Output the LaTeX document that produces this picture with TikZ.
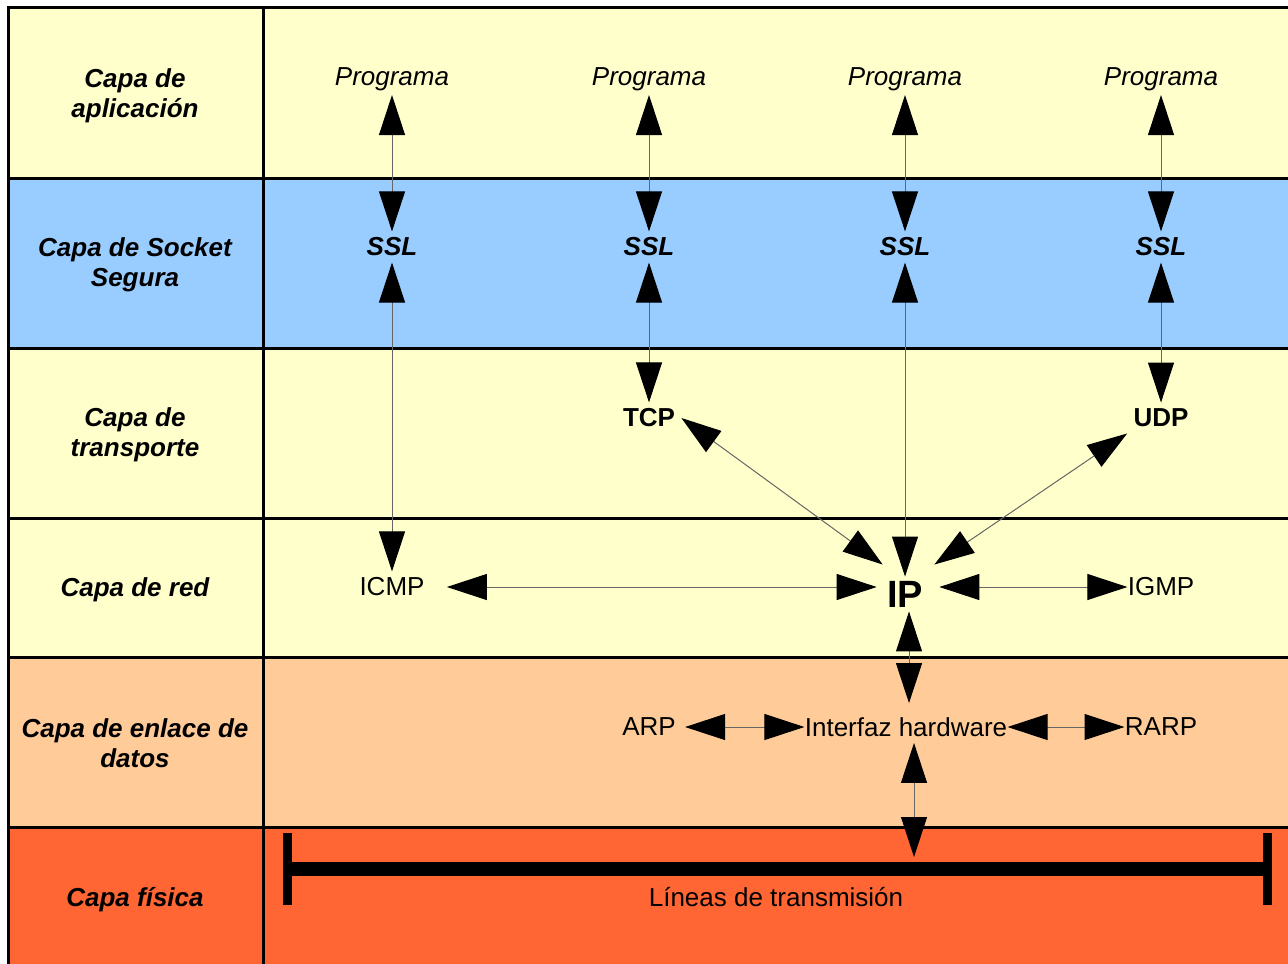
\documentclass[tikz,border=0pt]{standalone}
\usepackage{fontspec}
\setmainfont{Liberation Sans}
\usetikzlibrary{arrows.meta,positioning}
\definecolor{cyel}{HTML}{FFFFCC}
\definecolor{cblu}{HTML}{99CCFF}
\definecolor{cora}{HTML}{FFCC99}
\definecolor{cred}{HTML}{FF6633}

\begin{document}
\begin{tikzpicture}[
  x=0.5pt,y=-0.5pt,
  grid/.style={draw=black,line width=1.5pt},
  lname/.style={font=\fontsize{13}{15}\selectfont\bfseries\itshape,align=center},
  prog/.style={font=\fontsize{13}{15}\selectfont\itshape,inner sep=2pt},
  ssl/.style={font=\fontsize{13}{15}\selectfont\bfseries\itshape,inner sep=3pt},
  proto/.style={font=\fontsize{13}{15}\selectfont,inner sep=3pt},
  bproto/.style={font=\fontsize{13}{15}\selectfont\bfseries,inner sep=3pt},
  dbl/.style={<->,>={Triangle[length=20pt,width=13pt,color=black]},draw=black!60,line width=0.5pt}
]
  \useasboundingbox (0,0) rectangle (1288,963);

  % Layer bands
  \fill[cyel] (8,8)   rectangle (1300,178);
  \fill[cblu] (8,178) rectangle (1300,348);
  \fill[cyel] (8,348) rectangle (1300,657);
  \fill[cora] (8,657) rectangle (1300,827);
  \fill[cred] (8,827) rectangle (1300,980);

  % Grid lines
  \draw[grid] (8,980) -- (8,8) -- (1300,8);
  \draw[grid] (263,8) -- (263,980);
  \draw[grid] (8,178) -- (1300,178);
  \draw[grid] (8,348) -- (1300,348);
  \draw[grid] (8,518) -- (1300,518);
  \draw[grid] (8,657) -- (1300,657);
  \draw[grid] (8,827) -- (1300,827);

  % Layer names
  \node[lname] (lapp) at (135,96)  {Capa de\\aplicación};
  \node[lname] (lssl) at (135,265) {Capa de Socket\\Segura};
  \node[lname] (ltra) at (135,435) {Capa de\\transporte};
  \node[lname] (lred) at (135,590) {Capa de red};
  \node[lname] (lenl) at (135,743) {Capa de enlace de\\datos};
  \node[lname] (lfis) at (135,900) {Capa física};

  % Application programs
  \node[prog] (p1) at (392,79)  {Programa};
  \node[prog] (p2) at (649,79)  {Programa};
  \node[prog] (p3) at (905,79)  {Programa};
  \node[prog] (p4) at (1161,79) {Programa};

  % SSL
  \node[ssl] (s1) at (392,247)  {SSL};
  \node[ssl] (s2) at (649,247)  {SSL};
  \node[ssl] (s3) at (905,247)  {SSL};
  \node[ssl] (s4) at (1161,247) {SSL};

  % Transport and network
  \node[bproto] (tcp)  at (649,418)  {TCP};
  \node[bproto] (udp)  at (1161,418) {UDP};
  \node[proto]  (icmp) at (392,587)  {ICMP};
  \node[font=\fontsize{19}{21}\selectfont\bfseries,inner sep=2pt] (ip) at (905,594) {IP};
  \node[proto]  (igmp) at (1161,587) {IGMP};

  % Data link
  \node[proto] (arp)  at (649,727)  {ARP};
  \node[proto] (hw)   at (906,727)  {Interfaz hardware};
  \node[proto] (rarp) at (1161,727) {RARP};

  % Physical line
  \coordinate (barL) at (287,869);
  \coordinate (barR) at (1267,869);
  \coordinate (tap)  at (914,857);
  \draw[line width=7pt] (barL) -- (barR);
  \draw[line width=4.5pt] ([yshift=18pt]barL) -- ([yshift=-18pt]barL);
  \draw[line width=4.5pt] ([yshift=18pt]barR) -- ([yshift=-18pt]barR);
  \node[proto] (lin) at (776,897) {Líneas de transmisión};

  % Program <-> SSL
  \draw[dbl] (p1) -- (s1);
  \draw[dbl] (p2) -- (s2);
  \draw[dbl] (p3) -- (s3);
  \draw[dbl] (p4) -- (s4);

  % SSL <-> lower layers
  \draw[dbl] (s1) -- (icmp);
  \draw[dbl] (s2) -- (tcp);
  \draw[dbl] (s3.south) -- (ip.north);
  \draw[dbl] (s4) -- (udp);

  % Transport <-> IP
  \draw[dbl] (tcp.east) -- ([yshift=6pt]ip.north west);
  \draw[dbl] (udp.south west) -- ([xshift=3.5pt,yshift=6pt]ip.north east);

  % Network row
  \draw[dbl] ([xshift=8pt]icmp.east) -- ([xshift=-3pt]ip.west |- icmp.east);
  \draw[dbl] ([xshift=6pt]ip.east |- igmp.west) -- ([xshift=3pt]igmp.west);

  % IP <-> hardware <-> line
  \draw[dbl] ([xshift=2pt]ip.south) -- ([xshift=1.5pt,yshift=4pt]hw.north);
  \draw[dbl] ([xshift=4pt]hw.south) -- (tap);

  % Data link row
  \draw[dbl] ([xshift=1.5pt]arp.east) -- ([xshift=3pt]hw.west);
  \draw[dbl] ([xshift=-3pt]hw.east) -- ([xshift=3pt]rarp.west);
\end{tikzpicture}
\end{document}
